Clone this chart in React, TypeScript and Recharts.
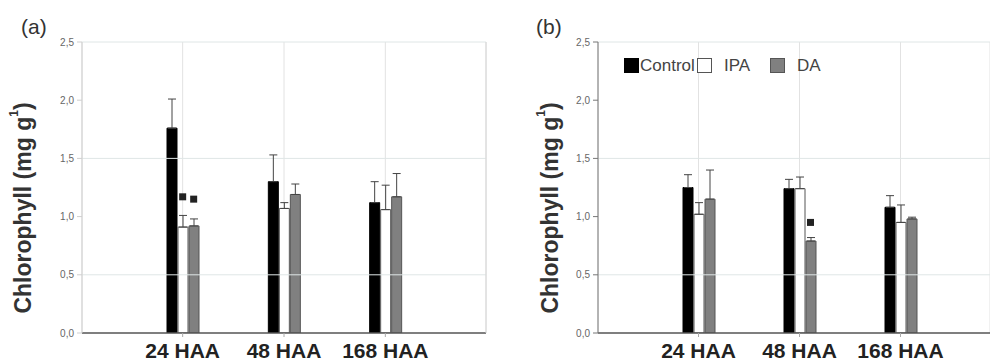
import React from 'react';
import {
  ComposedChart,
  Bar,
  ErrorBar,
  XAxis,
  YAxis,
  CartesianGrid,
  ReferenceLine,
  Scatter,
  Label,
} from 'recharts';

// ---------- data ----------
const categories = ['24 HAA', '48 HAA', '168 HAA'];
const seriesNames = ['Control', 'IPA', 'DA'];
const yTicks = [0, 0.5, 1, 1.5, 2, 2.5];
const gridValues = [0.5, 1.5, 2.5];

// panel (a)
const controlA = [1.76, 1.3, 1.12];
const controlErrA = [0.25, 0.23, 0.18];
const ipaA = [0.91, 1.07, 1.06];
const ipaErrA = [0.1, 0.05, 0.21];
const daA = [0.92, 1.19, 1.17];
const daErrA = [0.06, 0.09, 0.2];
const markIpaA = [1.17, null, null];
const markDaA = [1.15, null, null];

// panel (b)
const controlB = [1.25, 1.24, 1.08];
const controlErrB = [0.11, 0.08, 0.1];
const ipaB = [1.02, 1.24, 0.95];
const ipaErrB = [0.1, 0.1, 0.15];
const daB = [1.15, 0.79, 0.98];
const daErrB = [0.25, 0.03, 0.015];
const markIpaB = [null, null, null];
const markDaB = [null, 0.95, null];

// ---------- styles ----------
const FONT = 'Liberation Sans, Arial, Helvetica, sans-serif';
const seriesStyle: Record<string, { fill: string; stroke: string }> = {
  Control: { fill: '#000000', stroke: '#000000' },
  IPA: { fill: '#ffffff', stroke: '#555555' },
  DA: { fill: '#808080', stroke: '#555555' },
};

const buildData = (
  c: number[], ce: number[], i: number[], ie: number[], d: number[], de: number[],
  mi: (number | null)[], md: (number | null)[]
) =>
  categories.map((cat, k) => ({
    cat,
    control: c[k],
    controlErr: [0, ce[k]],
    ipa: i[k],
    ipaErr: [0, ie[k]],
    da: d[k],
    daErr: [0, de[k]],
    markIpa: mi[k],
    markDa: md[k],
  }));

const dataA = buildData(controlA, controlErrA, ipaA, ipaErrA, daA, daErrA, markIpaA, markDaA);
const dataB = buildData(controlB, controlErrB, ipaB, ipaErrB, daB, daErrB, markIpaB, markDaB);

const fmt = (v: number) => v.toFixed(1).replace('.', ',');

const BAR_SIZE = 10;
const BAR_GAP = 1;

const XTick = (props: any) => {
  const { x, y, payload } = props;
  return (
    <text
      x={x}
      y={y}
      dy={19}
      textAnchor="middle"
      fontSize={21}
      fontWeight="bold"
      fill="#222"
      fontFamily={FONT}
    >
      {payload.value}
    </text>
  );
};

const makeMarker = (key: string, shift: number) => (props: any) => {
  const { cx, cy, payload } = props;
  if (!payload || payload[key] == null || cx == null || cy == null || isNaN(cy)) return <g />;
  return <rect x={cx + shift - 3.5} y={cy - 3.5} width={7} height={7} fill="#222" />;
};

const YLabel = ({ cx, cy }: { cx: number; cy: number }) => (
  <text
    x={cx}
    y={cy}
    transform={`rotate(-90, ${cx}, ${cy})`}
    textAnchor="middle"
    dominantBaseline="central"
    fontSize={23}
    fontWeight="bold"
    fill="#333"
    fontFamily={FONT}
  >
    Chlorophyll (mg g
    <tspan dy={-9} fontSize={12}>1</tspan>
    <tspan dy={9}>)</tspan>
  </text>
);

type PanelProps = {
  data: any[];
  width: number;
  marginRight: number;
  padRight: number;
  padLeft: number;
  axisColor: string;
  rightBorder: boolean;
  labelCx: number;
};

const Panel = ({ data, width, marginRight, padLeft, padRight, axisColor, rightBorder, labelCx }: PanelProps) => (
  <ComposedChart
    width={width}
    height={364}
    data={data}
    margin={{ top: 42, right: marginRight, bottom: 0, left: 42 }}
    barSize={BAR_SIZE}
    barGap={BAR_GAP}
  >
    <CartesianGrid horizontal={false} stroke="#e2e2e2" />
    {gridValues.map((v) => (
      <ReferenceLine key={v} y={v} stroke="#dfe6e6" strokeWidth={1} />
    ))}
    <XAxis
      dataKey="cat"
      type="category"
      allowDuplicatedCategory={false}
      padding={{ left: padLeft, right: padRight }}
      height={31}
      tick={<XTick />}
      tickSize={4}
      tickMargin={2}
      tickLine={{ stroke: '#aaa' }}
      axisLine={{ stroke: '#555', strokeWidth: 1.5 }}
      interval={0}
    />
    <YAxis
      domain={[0, 2.5]}
      ticks={yTicks}
      width={40}
      tickFormatter={fmt}
      tick={{ fontSize: 10, fill: '#666', fontFamily: FONT }}
      tickSize={5}
      tickMargin={3}
      tickLine={{ stroke: axisColor }}
      axisLine={{ stroke: axisColor }}
      allowDataOverflow
    >
      <Label content={() => <YLabel cx={labelCx} cy={208} />} />
    </YAxis>
    {rightBorder && (
      <YAxis
        yAxisId="r"
        orientation="right"
        domain={[0, 2.5]}
        width={1}
        tick={false}
        tickLine={false}
        axisLine={{ stroke: '#d6d6d6' }}
      />
    )}
    <Bar dataKey="control" name={seriesNames[0]} fill={seriesStyle.Control.fill} stroke={seriesStyle.Control.stroke} isAnimationActive={false}>
      <ErrorBar dataKey="controlErr" width={4} stroke="#444" strokeWidth={1} direction="y" />
    </Bar>
    <Bar dataKey="ipa" name={seriesNames[1]} fill={seriesStyle.IPA.fill} stroke={seriesStyle.IPA.stroke} isAnimationActive={false}>
      <ErrorBar dataKey="ipaErr" width={4} stroke="#444" strokeWidth={1} direction="y" />
    </Bar>
    <Bar dataKey="da" name={seriesNames[2]} fill={seriesStyle.DA.fill} stroke={seriesStyle.DA.stroke} isAnimationActive={false}>
      <ErrorBar dataKey="daErr" width={4} stroke="#444" strokeWidth={1} direction="y" />
    </Bar>
    <Scatter dataKey="markIpa" legendType="none" isAnimationActive={false} shape={makeMarker('markIpa', 0)} />
    <Scatter dataKey="markDa" legendType="none" isAnimationActive={false} shape={makeMarker('markDa', BAR_SIZE + BAR_GAP)} />
  </ComposedChart>
);

const legendLefts = [624, 697, 770];
const legendTextOffsets = [16, 27, 27];

const App = () => (
  <div
    style={{
      position: 'absolute',
      left: 0,
      top: 0,
      width: 990,
      height: 364,
      background: '#fff',
      overflow: 'hidden',
      fontFamily: FONT,
    }}
  >
    <div style={{ position: 'absolute', left: 0, top: 0 }}>
      <Panel data={dataA} width={495} marginRight={8} padLeft={50} padRight={50} axisColor="#cfcfcf" rightBorder labelCx={23} />
    </div>
    <div style={{ position: 'absolute', left: 516, top: 0 }}>
      <Panel data={dataB} width={474} marginRight={0} padLeft={50} padRight={39} axisColor="#777" rightBorder={false} labelCx={33.5} />
    </div>
    <div style={{ position: 'absolute', left: 21, top: 15, fontSize: 21, lineHeight: '24px', color: '#333' }}>(a)</div>
    <div style={{ position: 'absolute', left: 536, top: 15, fontSize: 21, lineHeight: '24px', color: '#333' }}>(b)</div>
    {seriesNames.map((name, k) => (
      <div key={name} style={{ position: 'absolute', left: legendLefts[k], top: 58, height: 15 }}>
        <div
          style={{
            position: 'absolute',
            left: 0,
            top: 0,
            width: 15,
            height: 15,
            boxSizing: 'border-box',
            background: seriesStyle[name].fill,
            border: `1px solid ${seriesStyle[name].stroke}`,
          }}
        />
        <div
          style={{
            position: 'absolute',
            left: legendTextOffsets[k],
            top: -1,
            fontSize: 17,
            lineHeight: '17px',
            color: '#444',
            whiteSpace: 'nowrap',
          }}
        >
          {name}
        </div>
      </div>
    ))}
  </div>
);

export default App;
